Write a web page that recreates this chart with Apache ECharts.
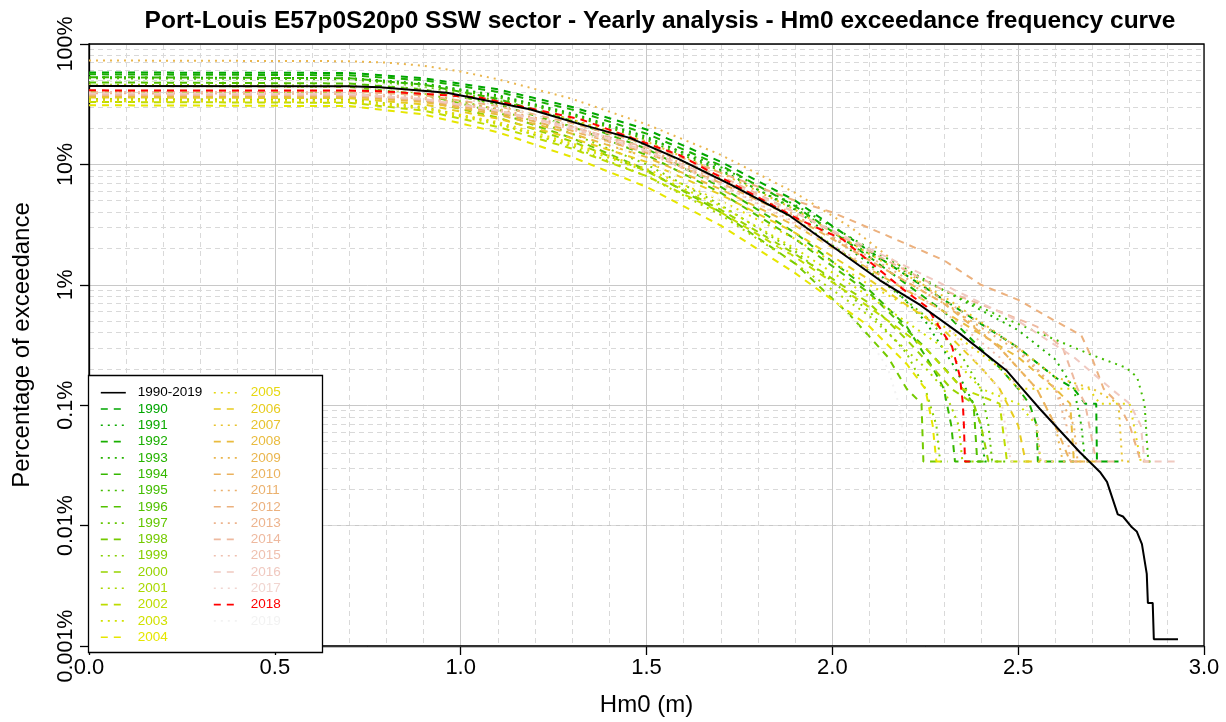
<!DOCTYPE html>
<html>
<head>
<meta charset="utf-8">
<script src="https://cdn.jsdelivr.net/npm/echarts@6/dist/echarts.min.js"></script>
<style>
html,body{margin:0;padding:0;background:#fff;}
#chart{width:1226px;height:722px;}
</style>
</head>
<body>
<div id="chart"></div>
<script>
// ---------------- DATA ----------------
const titleText = 'Port-Louis E57p0S20p0 SSW sector - Yearly analysis - Hm0 exceedance frequency curve';
const xTickLabels = ['0.0', '0.5', '1.0', '1.5', '2.0', '2.5', '3.0'];
const yTickLabels = ['0.001%', '0.01%', '0.1%', '1%', '10%', '100%'];
const years = ['1990','1991','1992','1993','1994','1995','1996','1997','1998','1999',
               '2000','2001','2002','2003','2004','2005','2006','2007','2008','2009',
               '2010','2011','2012','2013','2014','2015','2016','2017','2018','2019'];
const allYearsName = '1990-2019';

// [Hm0 (m), exceedance (%)]
const curveAll = [[0,44.7],[0.70,44.6],[0.783,43.8],[0.963,39.4],[1.052,34.7],[1.186,28.7],[1.321,21.6],[1.455,16.6],[1.590,10.95],[1.725,6.83],[1.886,3.73],[1.994,2.15],[2.128,1.09],[2.236,0.680],[2.343,0.393],[2.470,0.192],[2.505,0.144],[2.558,0.0934],[2.612,0.0616],[2.666,0.0407],[2.720,0.0279],[2.739,0.0231],[2.768,0.0124],[2.782,0.0119],[2.806,0.00967],[2.819,0.00895],[2.833,0.00701],[2.846,0.00397],[2.849,0.00228],[2.862,0.00228],[2.865,0.00114],[2.930,0.00114]];

const c1990 = [[0,58],[0.7,57.5],[0.9,52],[1.1,42],[1.3,30],[1.5,19.5],[1.7,10.5],[1.9,5.0],[2.1,1.9],[2.3,0.75],[2.5,0.3],[2.6,0.17],[2.65,0.137],[2.68,0.103],[2.71,0.103],[2.712,0.034],[2.77,0.034]];
const c1991 = [[0,53],[0.7,52],[0.9,47],[1.1,37.5],[1.3,26.5],[1.5,17],[1.7,9.0],[1.9,4.2],[2.1,1.5],[2.25,0.5],[2.33,0.205],[2.38,0.103],[2.40,0.068],[2.41,0.034],[2.43,0.034]];
const c1992 = [[0,56],[0.7,55],[0.9,50],[1.1,40],[1.3,28.5],[1.5,18],[1.7,9.8],[1.9,4.5],[2.1,1.7],[2.3,0.6],[2.45,0.205],[2.5,0.137],[2.53,0.103],[2.55,0.068],[2.553,0.034],[2.65,0.034]];
const c1993 = [[0,51],[0.7,50.5],[0.9,46],[1.1,37],[1.3,26],[1.5,16.5],[1.7,9.5],[1.9,4.6],[2.1,2.0],[2.3,0.9],[2.5,0.42],[2.6,0.24],[2.65,0.137],[2.67,0.068],[2.68,0.034],[2.70,0.034]];
const c1994 = [[0,53],[0.7,52],[0.9,46],[1.1,35],[1.3,23],[1.5,13.5],[1.7,6.5],[1.9,2.7],[2.1,0.9],[2.2,0.45],[2.27,0.205],[2.30,0.137],[2.32,0.068],[2.33,0.034],[2.40,0.034]];
const c1995 = [[0,52],[0.7,51],[0.9,46],[1.1,36],[1.3,25.5],[1.5,16],[1.7,8.8],[1.9,4.3],[2.1,1.8],[2.3,0.9],[2.45,0.55],[2.6,0.35],[2.7,0.26],[2.79,0.205],[2.82,0.171],[2.84,0.103],[2.85,0.034],[2.86,0.034]];
const c1996 = [[0,48],[0.7,47],[0.9,42],[1.1,31.5],[1.3,20.5],[1.5,12],[1.7,5.8],[1.9,2.4],[2.1,0.85],[2.25,0.3],[2.3,0.205],[2.35,0.137],[2.38,0.103],[2.39,0.034],[2.41,0.034]];
const c1997 = [[0,50],[0.7,49],[0.9,44],[1.1,34],[1.3,23.5],[1.5,14.5],[1.7,7.6],[1.9,3.5],[2.1,1.3],[2.25,0.55],[2.35,0.25],[2.4,0.137],[2.42,0.068],[2.43,0.034],[2.47,0.034]];
const c1998 = [[0,45],[0.7,44],[0.9,38],[1.1,27],[1.3,16.5],[1.5,9.0],[1.7,4.0],[1.9,1.5],[2.05,0.55],[2.15,0.25],[2.2,0.137],[2.24,0.103],[2.245,0.034],[2.28,0.034]];
const c1999 = [[0,46],[0.7,45],[0.9,39],[1.1,28.5],[1.3,18],[1.5,10],[1.7,4.6],[1.9,1.9],[2.1,0.6],[2.2,0.27],[2.25,0.137],[2.28,0.068],[2.29,0.034],[2.31,0.034]];
const c2000 = [[0,40],[0.7,39],[0.9,34],[1.1,24.5],[1.3,15.5],[1.5,8.8],[1.7,4.2],[1.9,1.8],[2.1,0.7],[2.2,0.35],[2.27,0.205],[2.32,0.137],[2.38,0.103],[2.40,0.068],[2.42,0.034],[2.46,0.034]];
const c2001 = [[0,35],[0.7,34.5],[0.9,30],[1.1,22],[1.3,14],[1.5,8],[1.7,3.8],[1.9,1.5],[2.1,0.55],[2.25,0.205],[2.3,0.137],[2.34,0.068],[2.35,0.034],[2.38,0.034]];
const c2002 = [[0,33],[0.7,32.5],[0.9,28],[1.1,20.5],[1.3,13.5],[1.5,8.0],[1.7,4.0],[1.9,1.7],[2.1,0.65],[2.25,0.3],[2.35,0.137],[2.45,0.103],[2.47,0.034],[2.53,0.034]];
const c2003 = [[0,33.5],[0.7,33],[0.9,29],[1.1,21.5],[1.3,14.5],[1.5,8.8],[1.7,4.5],[1.9,2.0],[2.1,0.8],[2.3,0.3],[2.4,0.137],[2.5,0.103],[2.55,0.068],[2.56,0.034],[2.6,0.034]];
const c2004 = [[0,31],[0.7,30.5],[0.9,26],[1.1,18.5],[1.3,11.5],[1.5,6.5],[1.7,3.1],[1.9,1.25],[2.1,0.45],[2.2,0.22],[2.25,0.137],[2.27,0.068],[2.28,0.034],[2.30,0.034]];
const c2005 = [[0,34],[0.7,33.5],[0.9,29.5],[1.1,22.5],[1.3,15],[1.5,9.2],[1.7,5.0],[1.9,2.4],[2.1,1.0],[2.3,0.45],[2.45,0.205],[2.5,0.137],[2.69,0.137],[2.72,0.103],[2.80,0.103],[2.83,0.034],[2.84,0.034]];
const c2006 = [[0,36],[0.7,35.5],[0.9,31.5],[1.1,24],[1.3,16.5],[1.5,10.5],[1.7,5.6],[1.9,2.7],[2.1,1.1],[2.3,0.42],[2.4,0.205],[2.45,0.137],[2.5,0.068],[2.52,0.034],[2.56,0.034]];
const c2007 = [[0,45],[0.7,44.5],[0.9,41],[1.1,33],[1.3,23.5],[1.5,15.5],[1.7,8.5],[1.9,4.2],[2.1,1.8],[2.3,0.8],[2.5,0.3],[2.6,0.171],[2.7,0.137],[2.77,0.103],[2.78,0.034],[2.80,0.034]];
const c2008 = [[0,37],[0.7,36.5],[0.9,33],[1.1,26],[1.3,18],[1.5,11.5],[1.7,6.2],[1.9,3.1],[2.1,1.35],[2.3,0.6],[2.5,0.25],[2.6,0.137],[2.64,0.103],[2.65,0.034],[2.71,0.034]];
const c2009 = [[0,73],[0.7,72],[0.8,70],[0.9,66],[1.0,59],[1.1,51],[1.3,35],[1.5,21.5],[1.7,12],[1.9,5.8],[2.05,3.0],[2.2,1.3],[2.35,0.55],[2.45,0.3],[2.55,0.137],[2.6,0.068],[2.62,0.034],[2.65,0.034]];
const c2010 = [[0,38],[0.7,37.5],[0.9,34],[1.1,27],[1.3,19],[1.5,12.5],[1.7,7.0],[1.9,3.6],[2.1,1.6],[2.3,0.7],[2.45,0.3],[2.55,0.137],[2.6,0.068],[2.64,0.034],[2.68,0.034]];
const c2011 = [[0,40],[0.7,39.5],[0.9,36],[1.1,29],[1.3,20.5],[1.5,13.5],[1.7,7.5],[1.9,3.8],[2.1,1.6],[2.3,0.7],[2.5,0.28],[2.6,0.137],[2.65,0.068],[2.66,0.034],[2.70,0.034]];
const c2012 = [[0,41],[0.7,40.5],[0.9,37.5],[1.1,30.5],[1.3,22],[1.5,14.8],[1.7,8.5],[1.9,5.0],[2.0,4.0],[2.13,2.7],[2.3,1.6],[2.4,1.0],[2.5,0.75],[2.6,0.5],[2.67,0.38],[2.70,0.24],[2.73,0.137],[2.77,0.103],[2.80,0.068],[2.83,0.034],[2.86,0.034]];
const c2013 = [[0,39],[0.7,38.5],[0.9,35],[1.1,28],[1.3,20],[1.5,13],[1.7,7.2],[1.9,3.7],[2.1,1.7],[2.3,0.75],[2.5,0.3],[2.6,0.137],[2.63,0.068],[2.64,0.034],[2.66,0.034]];
const c2014 = [[0,38],[0.7,37.5],[0.9,34.5],[1.1,28],[1.3,20.5],[1.5,13.8],[1.7,8.0],[1.9,4.0],[2.1,1.9],[2.3,0.9],[2.45,0.6],[2.55,0.45],[2.62,0.3],[2.66,0.137],[2.68,0.103],[2.71,0.034],[2.76,0.034]];
const c2015 = [[0,40],[0.7,39.5],[0.9,35.5],[1.1,28],[1.3,19.5],[1.5,12.5],[1.7,6.8],[1.9,3.3],[2.1,1.4],[2.3,0.6],[2.45,0.25],[2.5,0.137],[2.55,0.068],[2.56,0.034],[2.6,0.034]];
const c2016 = [[0,39],[0.7,38.5],[0.9,35],[1.1,28],[1.3,20],[1.5,13],[1.7,7.5],[1.9,4.0],[2.1,2.0],[2.3,1.0],[2.5,0.5],[2.65,0.25],[2.75,0.137],[2.8,0.103],[2.83,0.068],[2.84,0.034],[2.93,0.034]];
const c2017 = [[0,45],[0.7,44],[0.9,40],[1.1,31],[1.3,21],[1.5,13],[1.7,6.8],[1.9,3.2],[2.1,1.3],[2.3,0.5],[2.4,0.205],[2.45,0.137],[2.48,0.034],[2.52,0.034]];
const c2018 = [[0,41.2],[0.7,41.1],[0.783,40.6],[1.052,36.0],[1.321,23.8],[1.59,11.9],[1.913,3.46],[2.029,2.37],[2.128,1.32],[2.19,0.92],[2.254,0.655],[2.289,0.44],[2.322,0.307],[2.343,0.174],[2.351,0.105],[2.354,0.068],[2.357,0.034],[2.37,0.034]];
const c2019 = [[0,50],[0.7,49],[0.9,43],[1.1,32],[1.3,20],[1.5,11],[1.7,5],[1.8,3],[1.9,1.6],[2.0,0.8],[2.1,0.35],[2.15,0.2],[2.18,0.1],[2.2,0.034],[2.22,0.034]];

const yearCurves = [c1990,c1991,c1992,c1993,c1994,c1995,c1996,c1997,c1998,c1999,
                    c2000,c2001,c2002,c2003,c2004,c2005,c2006,c2007,c2008,c2009,
                    c2010,c2011,c2012,c2013,c2014,c2015,c2016,c2017,c2018,c2019];

// ---------------- STYLE ----------------
const FONT = '"Liberation Sans", Arial, sans-serif';

function hsvHex(h, s, v) {
  const i = Math.floor(h * 6) % 6;
  const f = h * 6 - Math.floor(h * 6);
  const p = v * (1 - s), q = v * (1 - s * f), t = v * (1 - s * (1 - f));
  let r, g, b;
  switch (i) {
    case 0: r = v; g = t; b = p; break;
    case 1: r = q; g = v; b = p; break;
    case 2: r = p; g = v; b = t; break;
    case 3: r = p; g = q; b = v; break;
    case 4: r = t; g = p; b = v; break;
    default: r = v; g = p; b = q;
  }
  const hx = x => ('0' + Math.round(x * 255).toString(16)).slice(-2);
  return '#' + hx(r) + hx(g) + hx(b);
}
function seq(a, b, n) { const o = []; for (let i = 0; i < n; i++) o.push(n === 1 ? a : a + (b - a) * i / (n - 1)); return o; }
function terrainColors(n) {
  const k = Math.floor(n / 2);
  const h1 = seq(4/12, 2/12, k), v1 = seq(0.65, 0.9, k);
  const out = [];
  for (let i = 0; i < k; i++) out.push(hsvHex(h1[i], 1, v1[i]));
  const m = n - k + 1;
  const h2 = seq(2/12, 0, m), s2 = seq(1, 0, m), v2 = seq(0.9, 0.95, m);
  for (let i = 1; i < m; i++) out.push(hsvHex(h2[i], s2[i], v2[i]));
  return out;
}
const palette = terrainColors(years.length);
palette[years.indexOf('2018')] = '#ff0000';

const DASHED = [7, 6];
const DOTTED = [2, 5];

const series = [];
// minor log gridlines (2..9 within each decade)
const minorY = [];
for (let e = -3; e <= 1; e++) for (let k = 2; k <= 9; k++) minorY.push(k * Math.pow(10, e));
series.push({
  type: 'line', name: '_grid', data: [], silent: true, z: 1,
  markLine: {
    silent: true, symbol: ['none', 'none'], animation: false,
    label: { show: false },
    lineStyle: { color: '#d9d9d9', type: [5, 4], width: 1 },
    data: minorY.map(v => ({ yAxis: v }))
  }
});

years.forEach((y, i) => {
  series.push({
    type: 'line', name: y, data: yearCurves[i],
    symbol: 'none', showSymbol: false, z: 10,
    lineStyle: { color: palette[i], width: 2, type: (i % 2 === 0) ? DASHED : DOTTED },
    itemStyle: { color: palette[i] },
    emphasis: { disabled: true }
  });
});
series.push({
  type: 'line', name: allYearsName, data: curveAll,
  symbol: 'none', showSymbol: false, z: 12,
  lineStyle: { color: '#000', width: 2, type: 'solid' },
  itemStyle: { color: '#000' },
  emphasis: { disabled: true }
});

const legendCol1 = [{ name: allYearsName, textStyle: { color: '#000' } }]
  .concat(years.slice(0, 15).map((y, i) => ({ name: y, textStyle: { color: palette[i] } })));
const legendCol2 = years.slice(15).map((y, i) => ({ name: y, textStyle: { color: palette[i + 15] } }));

const legendBase = {
  orient: 'vertical', padding: 0, itemWidth: 25, itemHeight: 14, itemGap: 2.3,
  selectedMode: false, z: 60,
  lineStyle: { width: 1.6 },
  itemStyle: { color: 'rgba(0,0,0,0)', borderWidth: 0, opacity: 0 },
  textStyle: { fontSize: 13.5, fontFamily: FONT, padding: [0, 0, 0, 7] }
};

const option = {
  animation: false,
  backgroundColor: '#fff',
  textStyle: { fontFamily: FONT },
  title: {
    text: titleText, left: 660, top: 9, padding: 0, textAlign: 'center',
    textStyle: { fontSize: 24.5, fontWeight: 'bold', color: '#000', fontFamily: FONT }
  },
  grid: { left: 89, top: 44, width: 1115, height: 609, show: true, z: 6,
          borderColor: '#000', borderWidth: 1.3, backgroundColor: 'transparent' },
  graphic: [{
    type: 'rect', z: 50,
    shape: { x: 88.5, y: 375.5, width: 234, height: 277 },
    style: { fill: '#fff', stroke: '#000', lineWidth: 1.3 }
  }],
  legend: [
    Object.assign({}, legendBase, { left: 100, top: 385.7, data: legendCol1 }),
    Object.assign({}, legendBase, { left: 213, top: 385.7, data: legendCol2 })
  ],
  xAxis: {
    type: 'value', min: 0, max: 3, interval: 0.5, z: 4,
    name: 'Hm0 (m)', nameLocation: 'middle', nameGap: 47,
    nameTextStyle: { fontSize: 24, color: '#000', fontFamily: FONT },
    axisLine: { show: true, onZero: false, lineStyle: { color: '#000', width: 1.3 } },
    axisTick: { show: true, inside: false, length: 9, lineStyle: { color: '#000', width: 1.3 } },
    axisLabel: { fontSize: 22, color: '#000', margin: 11, fontFamily: FONT,
      formatter: v => xTickLabels[Math.round(v / 0.5)] },
    splitLine: { show: true, lineStyle: { color: '#c8c8c8', width: 1 } },
    minorTick: { show: false, splitNumber: 5 },
    minorSplitLine: { show: true, lineStyle: { color: '#d9d9d9', width: 1, type: [5, 4] } }
  },
  yAxis: {
    type: 'log', logBase: 10, min: 0.001, max: 100, z: 5,
    name: 'Percentage of exceedance', nameLocation: 'middle', nameGap: 55,
    nameTextStyle: { fontSize: 24, color: '#000', fontFamily: FONT },
    axisLine: { show: true, lineStyle: { color: '#000', width: 1.3 } },
    axisTick: { show: true, inside: false, length: 9, lineStyle: { color: '#000', width: 1.3 } },
    axisLabel: { fontSize: 21.5, color: '#000', margin: 12, rotate: 90, fontFamily: FONT,
      formatter: v => yTickLabels[Math.round(Math.log10(v)) + 3] },
    splitLine: { show: true, lineStyle: { color: '#c8c8c8', width: 1 } }
  },
  series: series
};

const chart = echarts.init(document.getElementById('chart'), null, { renderer: 'canvas' });
chart.setOption(option);
</script>
</body>
</html>
